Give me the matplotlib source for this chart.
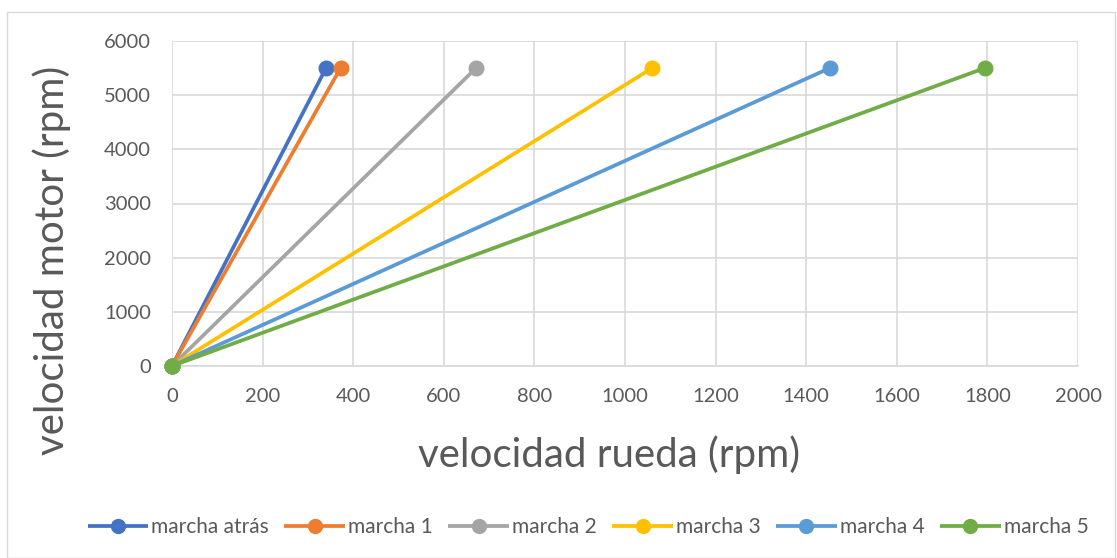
import matplotlib
matplotlib.use("Agg")
import matplotlib.pyplot as plt
from matplotlib.patches import Rectangle

# relaciones de transmision: velocidad de rueda a 5500 rpm de motor
labels = ["marcha atrás", "marcha 1", "marcha 2", "marcha 3", "marcha 4", "marcha 5"]
rueda_max = [340, 372, 671, 1060, 1452, 1794]
motor_max = [5500, 5500, 5500, 5500, 5500, 5500]
colors = ["#4472C4", "#ED7D31", "#A5A5A5", "#FFC000", "#5B9BD5", "#70AD47"]

plt.rcParams['font.family'] = ['Lato', 'DejaVu Sans']
gris = "#595959"

fig = plt.figure(figsize=(11.17, 5.58), dpi=100)
ax = fig.add_axes([172/1117, 1-366/558, (1078-172)/1117, (366-41)/558])

# borde exterior del grafico
fig.patches.append(Rectangle((7/1117, 0.0), 1-9/1117, 1-12/558, transform=fig.transFigure,
                             fill=False, edgecolor="#d9d9d9", linewidth=1))

for lab, xr, ym, c in zip(labels, rueda_max, motor_max, colors):
    ax.plot([0, xr], [0, ym], color=c, lw=2.7, marker="o", ms=10.5,
            solid_capstyle="butt", label=lab, clip_on=False, zorder=3)

ax.set_xlim(0, 2000)
ax.set_ylim(0, 6000)
ax.set_xticks(range(0, 2001, 200))
ax.set_yticks(range(0, 6001, 1000))
ax.grid(True, color="#d9d9d9", lw=1.2)
ax.set_axisbelow(True)
for s in ["top", "right", "left"]:
    ax.spines[s].set_visible(False)
ax.spines["bottom"].set_color("#d9d9d9")
ax.spines["bottom"].set_linewidth(1.2)
ax.tick_params(length=0, colors=gris, labelsize=14.5)
ax.tick_params(axis="x", pad=16)
ax.tick_params(axis="y", pad=15)

ax.set_xlabel("velocidad rueda (rpm)", fontsize=29, color=gris, va="center")
ax.xaxis.set_label_coords(0.482, -0.274)
ax.set_ylabel("velocidad motor (rpm)", fontsize=29, color=gris, va="center")
ax.yaxis.set_label_coords(-0.1325, 0.326)

leg = fig.legend(loc="center", bbox_to_anchor=(588/1117, 1-527/558), ncol=6,
                 frameon=False, fontsize=15, handlelength=2.9, columnspacing=0.75,
                 handletextpad=0.15, markerscale=0.95)
for t in leg.get_texts():
    t.set_color(gris)

fig.savefig("out.png", dpi=100)
